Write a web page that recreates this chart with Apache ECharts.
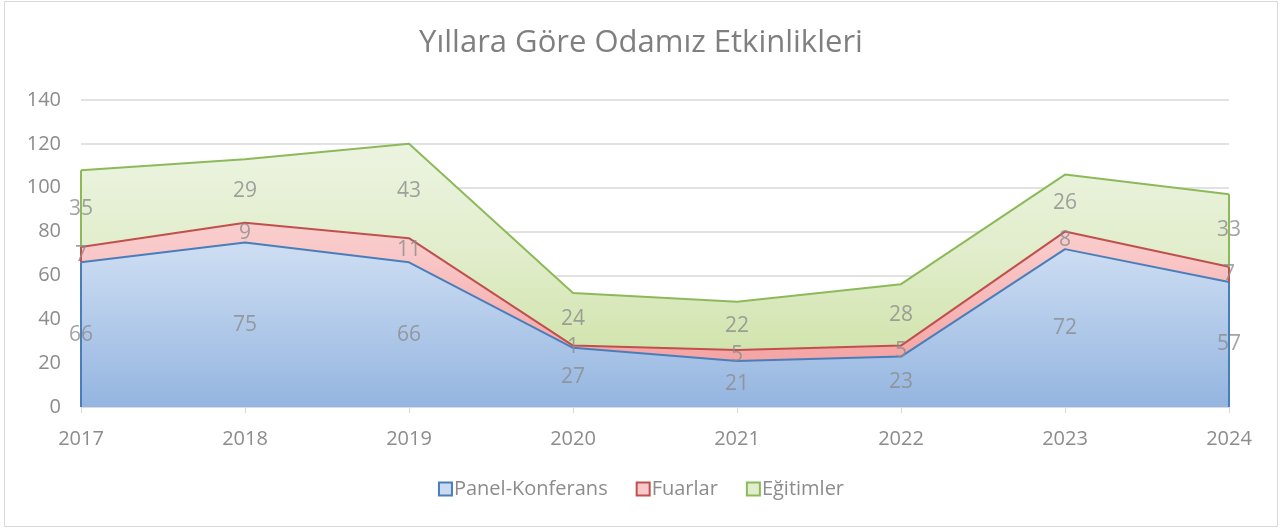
<!DOCTYPE html>
<html>
<head>
<meta charset="utf-8">
<script src="https://cdn.jsdelivr.net/npm/echarts@6/dist/echarts.min.js"></script>
<style>
  html, body { margin: 0; padding: 0; background: #fff; }
  #chart { position: absolute; left: 4px; top: 1px; width: 1274px; height: 526px; border: 1px solid #d9d9d9; box-sizing: border-box; }
</style>
</head>
<body>
<div id="chart"></div>
<script>
var years = ['2017', '2018', '2019', '2020', '2021', '2022', '2023', '2024']
var panel = [66, 75, 66, 27, 21, 23, 72, 57]
var fuarlar = [7, 9, 11, 1, 5, 5, 8, 7]
var egitimler = [35, 29, 43, 24, 22, 28, 26, 33]
var yTicks = [0, 20, 40, 60, 80, 100, 120, 140]

var chart = echarts.init(document.getElementById('chart'))
var font = 'Open Sans, Noto Sans, sans-serif'
var gray = '#8c8c8c'
var gridTop = 98, gridBottom = 119

// gradient spans the whole plot area, like the original
function grad(stops) {
    var h = chart.getHeight()
    return new echarts.graphic.LinearGradient(0, gridTop, 0, h - gridBottom,
        stops.map(function (c, i) { return {offset: i / (stops.length - 1), color: c} }), true)
}

function baseAt(bases, i) {
    var b = 0
    bases.forEach(function (arr) { b += arr[i] })
    return b
}

// label points at the middle of each stacked band
function labelSeries(vals, bases) {
    return {
        type: 'scatter',
        symbolSize: 0,
        silent: true,
        data: vals.map(function (v, i) {
            return {value: [years[i], baseAt(bases, i) + v / 2], label: {formatter: String(v)}}
        }),
        label: {show: true, position: 'inside', color: gray, fontSize: 21, fontFamily: font},
        z: 10
    }
}

// vertical closing edges at the first and last year
function edges(vals, bases) {
    var last = vals.length - 1
    return [0, last].map(function (i) {
        var b = baseAt(bases, i)
        return [{coord: [years[i], b]}, {coord: [years[i], b + vals[i]]}]
    })
}

function area(name, vals, bases, line, stops) {
    return {
        name: name,
        type: 'line',
        stack: 'total',
        data: vals,
        symbol: 'none',
        lineStyle: {color: line, width: 2},
        itemStyle: {color: stops[1], borderColor: line, borderWidth: 2},
        areaStyle: {color: grad(stops), opacity: 1},
        markLine: {
            silent: true,
            symbol: 'none',
            label: {show: false},
            lineStyle: {color: line, width: 2, type: 'solid'},
            data: edges(vals, bases)
        }
    }
}

var option = {
    animation: false,
    title: {
        text: 'Yıllara Göre Odamız Etkinlikleri',
        left: 'center',
        top: 21,
        textStyle: {color: '#7f7f7f', fontSize: 31, fontWeight: 'normal', fontFamily: font}
    },
    legend: {
        bottom: 22,
        left: 'center',
        itemWidth: 13,
        itemHeight: 13,
        itemGap: 28,
        icon: 'rect',
        data: ['Panel-Konferans', 'Fuarlar', 'Eğitimler'],
        textStyle: {color: gray, fontSize: 20, fontFamily: font, padding: [0, 0, 0, -3]}
    },
    grid: {left: 76, right: 48, top: gridTop, bottom: gridBottom},
    xAxis: {
        type: 'category',
        data: years,
        boundaryGap: false,
        axisLine: {lineStyle: {color: '#d9d9d9', width: 1.5}},
        axisTick: {show: true, alignWithLabel: true, length: 6, lineStyle: {color: '#d9d9d9'}},
        axisLabel: {color: gray, fontSize: 20, fontFamily: font, margin: 22}
    },
    yAxis: {
        type: 'value',
        min: yTicks[0],
        max: yTicks[yTicks.length - 1],
        interval: 20,
        axisLine: {show: false},
        axisTick: {show: false},
        axisLabel: {color: gray, fontSize: 20, fontFamily: font, margin: 20},
        splitLine: {lineStyle: {color: '#d9d9d9', width: 1.5}}
    },
    series: [
        area('Panel-Konferans', panel, [], '#4a7ebb', ['#e4ecf8', '#cbdcf2', '#94b5e0']),
        area('Fuarlar', fuarlar, [panel], '#c0504d', ['#fde6e6', '#f9c8c8', '#f29494']),
        area('Eğitimler', egitimler, [panel, fuarlar], '#8cba5a', ['#f1f7ea', '#e1edcb', '#c9df9c']),
        labelSeries(panel, []),
        labelSeries(fuarlar, [panel]),
        labelSeries(egitimler, [panel, fuarlar])
    ]
}

chart.setOption(option)
</script>
</body>
</html>
